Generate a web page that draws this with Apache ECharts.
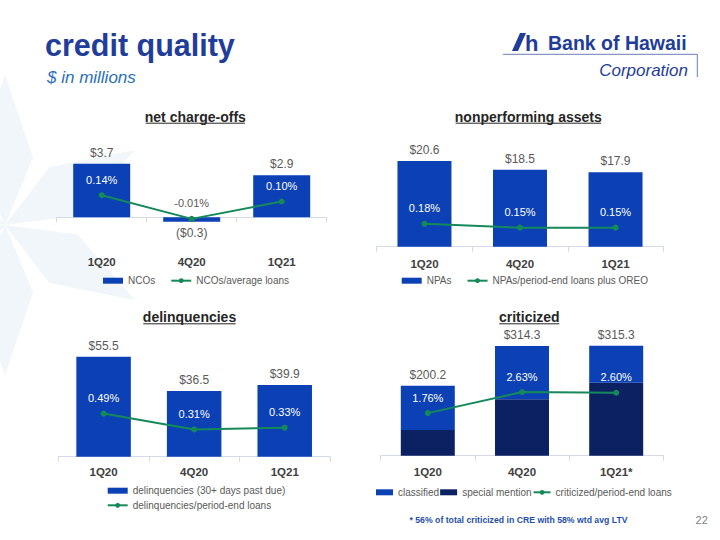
<!DOCTYPE html>
<html>
<head>
<meta charset="utf-8">
<script src="https://cdn.jsdelivr.net/npm/echarts@6/dist/echarts.min.js"></script>
<style>
html,body{margin:0;padding:0;background:#fff;}
#c{width:720px;height:540px;}
</style>
</head>
<body>
<div id="c"></div>
<script>
// ---- data ----
const categories = ['1Q20', '4Q20', '1Q21'];
const critCategories = ['1Q20', '4Q20', '1Q21*'];
const ncoValues = [3.7, -0.3, 2.9];
const ncoRatio = [0.14, -0.01, 0.10];
const npaValues = [20.6, 18.5, 17.9];
const npaRatio = [0.18, 0.15, 0.15];
const delinqValues = [55.5, 36.5, 39.9];
const delinqRatio = [0.49, 0.31, 0.33];
const classifiedValues = [126.6, 152.7, 106.3];
const specialMentionValues = [73.6, 161.6, 209.0];
const criticizedTotals = [200.2, 314.3, 315.3];
const criticizedRatio = [1.76, 2.63, 2.60];

// ---- styles ----
const FONT = 'Liberation Sans, Arial, sans-serif';
const BLUE = '#0b41b4';
const NAVY = '#0c2161';
const GREEN = '#15895a';
const GRAY = '#595959';
const AXISGRAY = '#404040';
const TITLEBLUE = '#1f3d99';

const fmtDollar = v => v < 0 ? '($' + Math.abs(v).toFixed(1) + ')' : '$' + v.toFixed(1);
const fmtPct = v => v.toFixed(2) + '%';

function xAxisCfg(gridIndex, data, margin) {
  return {
    type: 'category', gridIndex, data,
    axisLine: { onZero: true, lineStyle: { color: '#d3dbeb', width: 1.2 } },
    axisTick: { show: true, length: 5, lineStyle: { color: '#d9d9d9' } },
    axisLabel: { margin, fontFamily: FONT, fontSize: 11.5, fontWeight: 'bold', color: AXISGRAY },
    splitLine: { show: false }
  };
}
function yAxisCfg(gridIndex, min, max) {
  return { type: 'value', gridIndex, min, max, show: false, splitLine: { show: false } };
}
function barSeries(name, xi, yi, data, barWidth, extra) {
  return Object.assign({
    name, type: 'bar', xAxisIndex: xi, yAxisIndex: yi, data, barWidth,
    itemStyle: { color: BLUE },
    label: { show: true, position: 'top', distance: 5, fontFamily: FONT, fontSize: 12, color: GRAY,
      formatter: p => fmtDollar(p.value) }
  }, extra || {});
}
function lineSeries(name, xi, yi, data) {
  return {
    name, type: 'line', xAxisIndex: xi, yAxisIndex: yi, data,
    symbol: 'circle', symbolSize: 6, z: 5,
    itemStyle: { color: GREEN },
    lineStyle: { color: GREEN, width: 2 },
    label: { show: true, position: 'top', distance: 7, fontFamily: FONT, fontSize: 11, color: '#ffffff',
      formatter: p => fmtPct(p.value) }
  };
}
function legendCfg(data, left, top, extra) {
  return Object.assign({
    data, left, top, padding: 0, itemWidth: 20, itemHeight: 6, itemGap: 15,
    textStyle: { fontFamily: FONT, fontSize: 10, color: GRAY },
    selectedMode: false
  }, extra || {});
}
function titleText(text, cx, cy, w) {
  return [
    { type: 'text', x: cx, y: cy, style: { text, fontFamily: FONT, fontSize: 14, fontWeight: 'bold', fill: '#262626', align: 'center', verticalAlign: 'middle' } },
    { type: 'line', shape: { x1: cx - w / 2, y1: cy + 6.5, x2: cx + w / 2, y2: cy + 6.5 }, style: { stroke: '#262626', lineWidth: 1 } }
  ];
}

// background star (decoration)
function starKites(cx, cy, len, half, angles) {
  return angles.map(a => {
    const r = a * Math.PI / 180;
    const ux = Math.cos(r), uy = Math.sin(r);
    const px = -uy, py = ux;
    const m = len * 0.45;
    return {
      type: 'polygon', silent: true, z: -10,
      shape: { points: [
        [cx, cy],
        [cx + ux * m + px * half, cy + uy * m + py * half],
        [cx + ux * len, cy + uy * len],
        [cx + ux * m - px * half, cy + uy * m - py * half]
      ] },
      style: { fill: '#f0f6f9' }
    };
  });
}

const chart = echarts.init(document.getElementById('c'), null, { renderer: 'svg' });

const graphics = [].concat(
  starKites(5, 225, 150, 28, [-90, -30, 30, 90, 150, 210]),
  [
    { type: 'text', x: 45, y: 45, style: { text: 'credit quality', fontFamily: FONT, fontSize: 30.5, fontWeight: 'bold', fill: TITLEBLUE, verticalAlign: 'middle' } },
    { type: 'text', x: 47, y: 77.5, style: { text: '$ in millions', fontFamily: FONT, fontSize: 17, fontStyle: 'italic', fill: '#2a6ebb', verticalAlign: 'middle' } },
    // logo
    { type: 'polygon', shape: { points: [[512, 51], [518, 51], [526, 33], [520, 33]] }, style: { fill: TITLEBLUE } },
    { type: 'text', x: 525, y: 43, style: { text: 'h', fontFamily: FONT, fontSize: 22, fontWeight: 'bold', fill: TITLEBLUE, verticalAlign: 'middle' } },
    { type: 'text', x: 548, y: 42.7, style: { text: 'Bank of Hawaii', fontFamily: FONT, fontSize: 19.5, fontWeight: 'bold', fill: TITLEBLUE, verticalAlign: 'middle' } },
    { type: 'line', shape: { x1: 503, y1: 54.3, x2: 697.3, y2: 54.3 }, style: { stroke: '#6b7db5', lineWidth: 1 } },
    { type: 'line', shape: { x1: 697.3, y1: 54.3, x2: 697.3, y2: 77 }, style: { stroke: '#6b7db5', lineWidth: 1 } },
    { type: 'text', x: 688, y: 70, style: { text: 'Corporation', fontFamily: FONT, fontSize: 17, fontStyle: 'italic', fill: TITLEBLUE, align: 'right', verticalAlign: 'middle' } },
    // footnote & page
    { type: 'text', x: 518.5, y: 520, style: { text: '* 56% of total criticized in CRE with 58% wtd avg LTV', fontFamily: FONT, fontSize: 8.7, fontWeight: 'bold', fill: '#1f4fa8', align: 'center', verticalAlign: 'middle' } },
    { type: 'text', x: 701.7, y: 520, style: { text: '22', fontFamily: FONT, fontSize: 11, fill: '#7f7f7f', align: 'center', verticalAlign: 'middle' } }
  ],
  titleText('net charge-offs', 195.3, 116.7, 99.3),
  titleText('nonperforming assets', 528.3, 116.7, 145.3),
  titleText('delinquencies', 189.5, 317.3, 92.4),
  titleText('criticized', 529.3, 317.3, 60)
);

const ncoRatioData = ncoRatio.map((v, i) => v < 0 ? { value: v, label: { color: GRAY } } : v);
const ncoValueData = ncoValues.map(v => v < 0 ? { value: v, label: { position: 'bottom' } } : v);

const option = {
  animation: false,
  backgroundColor: '#ffffff',
  textStyle: { fontFamily: FONT },
  grid: [
    { left: 56.7, top: 144.8, width: 270, height: 87, outerBoundsMode: 'none', containLabel: false },
    { left: 376.7, top: 142.7, width: 286.6, height: 104, outerBoundsMode: 'none', containLabel: false },
    { left: 58.3, top: 348.7, width: 271.7, height: 108, outerBoundsMode: 'none', containLabel: false },
    { left: 380.7, top: 333.55, width: 282.6, height: 122.15, outerBoundsMode: 'none', containLabel: false }
  ],
  xAxis: [
    xAxisCfg(0, categories, 23.7),
    xAxisCfg(1, categories, 11),
    xAxisCfg(2, categories, 9.5),
    xAxisCfg(3, critCategories, 10.5)
  ],
  yAxis: [
    yAxisCfg(0, -1, 5),
    yAxisCfg(0, -0.09177, 0.45886),
    yAxisCfg(1, 0, 25),
    yAxisCfg(1, 0, 0.8189),
    yAxisCfg(2, 0, 60),
    yAxisCfg(2, 0, 1.2273),
    yAxisCfg(3, 0, 350),
    yAxisCfg(3, 0, 5.047)
  ],
  legend: [
    legendCfg([{ name: 'NCOs', icon: 'rect' }, 'NCOs/average loans'], 103, 275.7),
    legendCfg([{ name: 'NPAs', icon: 'rect' }, 'NPAs/period-end loans plus OREO'], 401.7, 275.7),
    legendCfg([{ name: 'delinquencies (30+ days past due)', icon: 'rect' }, 'delinquencies/period-end loans'], 106.7, 485.7, { orient: 'vertical', itemGap: 4.6 }),
    legendCfg([{ name: 'classified', icon: 'rect' }, { name: 'special mention', icon: 'rect' }, 'criticized/period-end loans'], 376, 487.3, { itemWidth: 17, itemGap: 1 })
  ],
  series: [
    barSeries('NCOs', 0, 0, ncoValueData, 57),
    lineSeries('NCOs/average loans', 0, 1, ncoRatioData),
    barSeries('NPAs', 1, 2, npaValues, 54),
    lineSeries('NPAs/period-end loans plus OREO', 1, 3, npaRatio),
    barSeries('delinquencies (30+ days past due)', 2, 4, delinqValues, 54.5),
    lineSeries('delinquencies/period-end loans', 2, 5, delinqRatio),
    barSeries('special mention', 3, 6, specialMentionValues, 54, { stack: 'crit', itemStyle: { color: NAVY }, label: { show: false } }),
    barSeries('classified', 3, 6, classifiedValues, 54, { stack: 'crit',
      label: { show: true, position: 'top', distance: 5, fontFamily: FONT, fontSize: 12, color: GRAY,
        formatter: p => fmtDollar(criticizedTotals[p.dataIndex]) } }),
    lineSeries('criticized/period-end loans', 3, 7, criticizedRatio)
  ],
  graphic: graphics
};
chart.setOption(option);
</script>
</body>
</html>
